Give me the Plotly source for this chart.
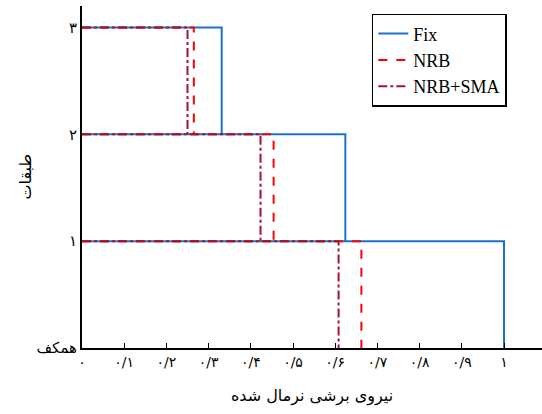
import plotly.graph_objects as go

# Data
stories = [3, 2, 1]  # story levels (top to bottom)
fix_vals = [0.331, 0.624, 1.0]
nrb_vals = [0.265, 0.454, 0.662]
nrb_sma_vals = [0.250, 0.423, 0.608]

y_tickvals = [0, 1, 2, 3]
y_ticktext = ["همکف", "۱", "۲", "۳"]
x_tickvals = [0, 0.1, 0.2, 0.3, 0.4, 0.5, 0.6, 0.7, 0.8, 0.9, 1.0]
x_ticktext = ["۰", "۰/۱", "۰/۲", "۰/۳", "۰/۴", "۰/۵", "۰/۶", "۰/۷", "۰/۸", "۰/۹", "۱"]


def steps(vals):
    xs, ys = [], []
    for s, v in zip(stories, vals):
        xs += [0, v, v, None]
        ys += [s, s, s - 1, None]
    return xs, ys


fig = go.Figure()
for name, vals, color, dash in [
    ("Fix", fix_vals, "#1b6fd1", "solid"),
    ("NRB", nrb_vals, "#ff0000", "dash"),
    ("NRB+SMA", nrb_sma_vals, "#a2142f", "dashdot"),
]:
    xs, ys = steps(vals)
    fig.add_trace(go.Scatter(x=xs, y=ys, mode="lines", name=name,
                             line=dict(color=color, width=2, dash=dash)))

fig.update_layout(
    width=542, height=414,
    margin=dict(l=82, r=0, t=6, b=66),
    plot_bgcolor="white", paper_bgcolor="white",
    showlegend=True,
    legend=dict(x=0.63, y=0.977, xanchor="left", yanchor="top",
                bgcolor="white", bordercolor="black", borderwidth=1.5,
                font=dict(family="Liberation Serif", size=18, color="black"),
                tracegroupgap=0),
    font=dict(family="DejaVu Sans", color="black"),
    annotations=[dict(text="طبقات", xref="paper", yref="paper",
                      x=-0.125, y=0.5, xanchor="center", yanchor="middle",
                      textangle=-90, showarrow=False, font=dict(size=16))],
)
fig.update_xaxes(
    range=[0, 1.09], tickvals=x_tickvals, ticktext=x_ticktext, automargin=False,
    showgrid=False, zeroline=False, showline=True, linecolor="black", linewidth=2,
    ticks="inside", ticklen=5, tickcolor="black", tickfont=dict(size=14),
    title=dict(text="نیروی برشی نرمال شده", font=dict(size=16), standoff=21),
)
fig.update_yaxes(
    range=[0, 3.2], tickvals=y_tickvals, ticktext=y_ticktext, automargin=False,
    showgrid=False, zeroline=False, showline=True, linecolor="black", linewidth=2,
    ticks="", tickfont=dict(size=15),
)
fig.write_html("out.html", config={"displayModeBar": False},
               post_script="document.body.style.margin='0';")
